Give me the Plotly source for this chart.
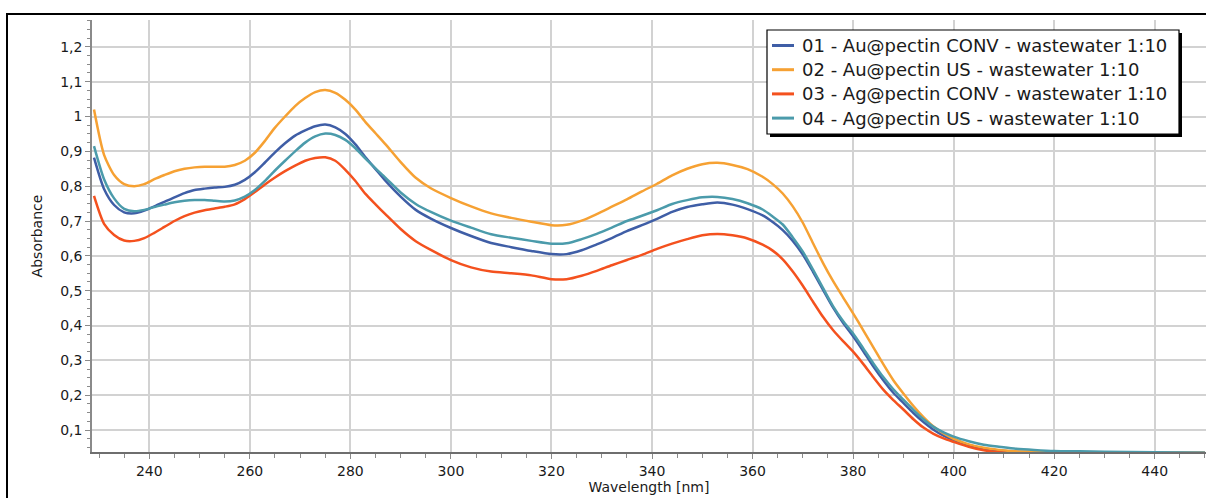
import plotly.graph_objects as go

# Wavelength grid (nm) shared by all four spectra
wavelength = [229, 231, 233, 235, 237, 239, 241, 243, 245, 247, 249, 251, 253, 255, 257, 259,
              261, 263, 265, 267, 269, 271, 273, 275, 277, 279, 281, 283, 285, 287, 290, 293,
              296, 300, 304, 308, 312, 316, 320, 323, 326, 329, 332, 335, 338, 341, 344, 347,
              350, 353, 356, 359, 362, 364, 366, 368, 370, 372, 374, 376, 378, 380, 382, 384,
              386, 388, 390, 392, 394, 396, 398, 400, 403, 406, 409, 412, 416, 420, 425, 430,
              440, 450]

abs_au_conv = [0.882, 0.792, 0.746, 0.725, 0.722, 0.730, 0.742, 0.755, 0.768, 0.780, 0.789, 0.793,
               0.796, 0.798, 0.804, 0.818, 0.840, 0.868, 0.897, 0.923, 0.945, 0.960, 0.972, 0.977,
               0.969, 0.950, 0.920, 0.883, 0.849, 0.815, 0.770, 0.732, 0.707, 0.680, 0.657, 0.637,
               0.625, 0.614, 0.605, 0.605, 0.616, 0.633, 0.651, 0.671, 0.688, 0.706, 0.726, 0.740,
               0.748, 0.753, 0.747, 0.734, 0.716, 0.697, 0.674, 0.643, 0.604, 0.555, 0.503, 0.452,
               0.408, 0.369, 0.327, 0.283, 0.243, 0.207, 0.178, 0.149, 0.123, 0.101, 0.084, 0.071,
               0.057, 0.047, 0.041, 0.038, 0.037, 0.037, 0.036, 0.036, 0.035, 0.035]

abs_au_us = [1.020, 0.890, 0.832, 0.806, 0.800, 0.806, 0.820, 0.832, 0.843, 0.850, 0.854, 0.856,
             0.856, 0.856, 0.861, 0.873, 0.896, 0.930, 0.968, 1.000, 1.030, 1.053, 1.070, 1.076,
             1.068, 1.048, 1.020, 0.984, 0.952, 0.920, 0.869, 0.824, 0.794, 0.766, 0.742, 0.722,
             0.709, 0.698, 0.688, 0.689, 0.701, 0.720, 0.741, 0.762, 0.785, 0.807, 0.831, 0.850,
             0.863, 0.867, 0.861, 0.849, 0.827, 0.806, 0.779, 0.742, 0.695, 0.637, 0.580, 0.528,
             0.481, 0.435, 0.387, 0.338, 0.289, 0.243, 0.205, 0.169, 0.137, 0.110, 0.090, 0.075,
             0.059, 0.049, 0.043, 0.039, 0.038, 0.037, 0.036, 0.036, 0.035, 0.035]

abs_ag_conv = [0.772, 0.692, 0.660, 0.644, 0.643, 0.651, 0.666, 0.683, 0.700, 0.714, 0.724, 0.731,
               0.736, 0.741, 0.748, 0.763, 0.783, 0.805, 0.825, 0.843, 0.859, 0.873, 0.881, 0.883,
               0.873, 0.847, 0.815, 0.778, 0.748, 0.719, 0.677, 0.642, 0.617, 0.588, 0.567, 0.555,
               0.550, 0.544, 0.533, 0.533, 0.543, 0.557, 0.573, 0.588, 0.603, 0.620, 0.635, 0.648,
               0.659, 0.663, 0.659, 0.650, 0.632, 0.615, 0.590, 0.555, 0.514, 0.469, 0.425, 0.387,
               0.355, 0.325, 0.290, 0.252, 0.216, 0.186, 0.159, 0.131, 0.107, 0.089, 0.076, 0.066,
               0.052, 0.042, 0.036, 0.032, 0.029, 0.028, 0.028, 0.028, 0.028, 0.028]

abs_ag_us = [0.915, 0.820, 0.765, 0.735, 0.728, 0.732, 0.740, 0.747, 0.754, 0.758, 0.760, 0.760,
             0.758, 0.756, 0.759, 0.770, 0.789, 0.815, 0.845, 0.873, 0.900, 0.925, 0.943, 0.951,
             0.947, 0.933, 0.909, 0.879, 0.851, 0.824, 0.782, 0.749, 0.726, 0.701, 0.681, 0.662,
             0.652, 0.643, 0.635, 0.636, 0.648, 0.663, 0.681, 0.700, 0.715, 0.731, 0.749, 0.760,
             0.768, 0.769, 0.763, 0.751, 0.733, 0.713, 0.690, 0.653, 0.612, 0.561, 0.508, 0.456,
             0.413, 0.377, 0.335, 0.292, 0.252, 0.217, 0.187, 0.158, 0.131, 0.109, 0.093, 0.081,
             0.068, 0.058, 0.052, 0.047, 0.043, 0.040, 0.039, 0.038, 0.036, 0.035]

series_names = [
    "01 - Au@pectin CONV - wastewater 1:10",
    "02 - Au@pectin US - wastewater 1:10",
    "03 - Ag@pectin CONV - wastewater 1:10",
    "04 - Ag@pectin US - wastewater 1:10",
]
series_values = [abs_au_conv, abs_au_us, abs_ag_conv, abs_ag_us]
series_colors = ["#3f5ea6", "#f6a133", "#f4511e", "#4b9bab"]

FONT = "DejaVu Sans"
TEXT_COLOR = "#1a1a1a"
W, H = 1206, 498
ML, MR, MT, MB = 92, 0, 20, 46
PW, PH = W - ML - MR, H - MT - MB


def px_to_paper_x(px):
    return (px - ML) / PW


def px_to_paper_y(py):
    return (H - MB - py) / PH


fig = go.Figure()
for name, vals, col in zip(series_names, series_values, series_colors):
    fig.add_trace(go.Scatter(
        x=wavelength, y=vals, name=name, mode="lines", showlegend=False,
        line=dict(color=col, width=2.5, shape="spline", smoothing=0.7),
    ))

# boxed legend with a drop shadow (pixel geometry)
LEG_L, LEG_T, LEG_R, LEG_B = 767, 30, 1179, 134
SHADOW = 3
ROW0, ROW_STEP = 45.5, 24.2
SAMPLE_X0, SAMPLE_X1, TEXT_X = 772, 794, 800

shapes = [
    # outer frame around the chart
    dict(type="rect", xref="paper", yref="paper",
         x0=px_to_paper_x(7), x1=1.2, y0=-0.5, y1=px_to_paper_y(14),
         line=dict(color="black", width=2), fillcolor="rgba(0,0,0,0)", layer="above"),
    # legend shadow
    dict(type="rect", xref="paper", yref="paper",
         x0=px_to_paper_x(LEG_L + SHADOW), x1=px_to_paper_x(LEG_R + SHADOW),
         y0=px_to_paper_y(LEG_B + SHADOW), y1=px_to_paper_y(LEG_T + SHADOW),
         line=dict(width=0), fillcolor="black", layer="above"),
    # legend box
    dict(type="rect", xref="paper", yref="paper",
         x0=px_to_paper_x(LEG_L), x1=px_to_paper_x(LEG_R),
         y0=px_to_paper_y(LEG_B), y1=px_to_paper_y(LEG_T),
         line=dict(color="black", width=1.2), fillcolor="white", layer="above"),
]
annotations = []
for i, (name, col) in enumerate(zip(series_names, series_colors)):
    yrow = ROW0 + i * ROW_STEP
    shapes.append(dict(type="line", xref="paper", yref="paper",
                       x0=px_to_paper_x(SAMPLE_X0), x1=px_to_paper_x(SAMPLE_X1),
                       y0=px_to_paper_y(yrow), y1=px_to_paper_y(yrow),
                       line=dict(color=col, width=3), layer="above"))
    annotations.append(dict(xref="paper", yref="paper",
                            x=px_to_paper_x(TEXT_X), y=px_to_paper_y(yrow),
                            xanchor="left", yanchor="middle", showarrow=False,
                            text=name, font=dict(family=FONT, size=18, color=TEXT_COLOR)))

fig.update_layout(
    width=W, height=H,
    margin=dict(l=ML, r=MR, t=MT, b=MB, pad=0),
    paper_bgcolor="white", plot_bgcolor="white",
    separators=", ",
    font=dict(family=FONT, size=14, color=TEXT_COLOR),
    showlegend=False,
    xaxis=dict(
        range=[228.6, 450.2], dtick=20, tick0=0,
        showgrid=True, gridcolor="#d2d2d2", gridwidth=1.5,
        showline=True, linecolor="#6e6e6e", linewidth=1.5,
        ticks="outside", ticklen=5, tickcolor="#8a8a8a",
        zeroline=False,
        minor=dict(dtick=5, ticks="outside", ticklen=4, tickcolor="#8a8a8a", showgrid=False),
        title=dict(text="Wavelength [nm]", font=dict(size=14), standoff=5),
    ),
    yaxis=dict(
        range=[0.037, 1.277], dtick=0.1, tick0=0,
        showgrid=True, gridcolor="#d2d2d2", gridwidth=1.5,
        showline=True, linecolor="#8a8a8a", linewidth=1.5,
        ticks="outside", ticklen=5, tickcolor="#8a8a8a",
        zeroline=False,
        minor=dict(dtick=0.025, ticks="outside", ticklen=3, tickcolor="#8a8a8a", showgrid=False),
        title=dict(text="Absorbance", font=dict(size=14), standoff=14),
    ),
    shapes=shapes,
    annotations=annotations,
)

fig.write_html("out.html")
